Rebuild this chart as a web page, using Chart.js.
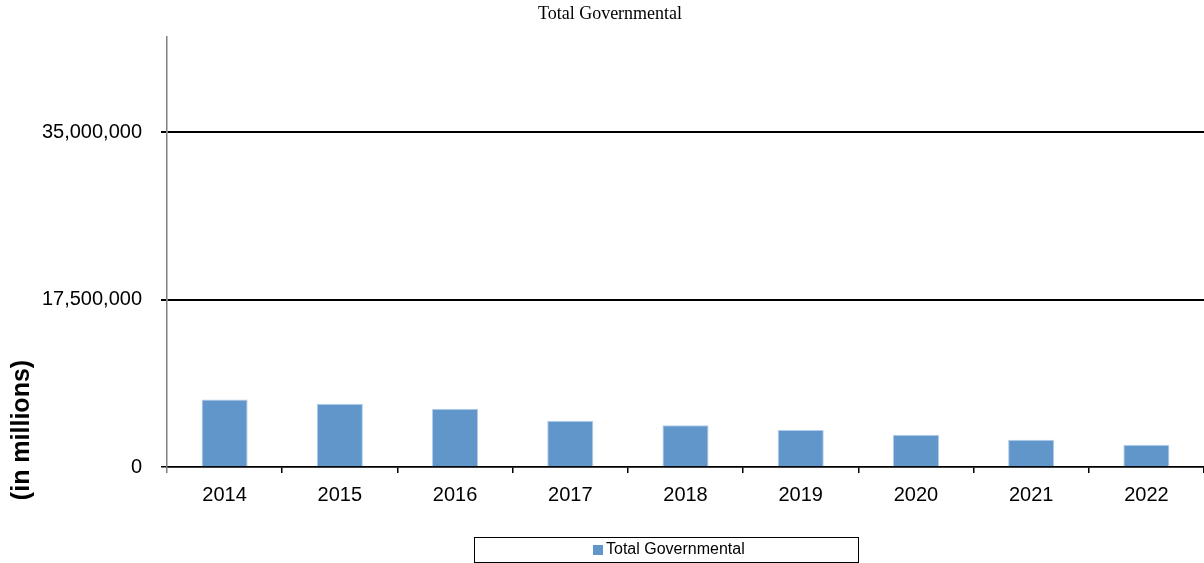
<!DOCTYPE html>
<html>
<head>
<meta charset="utf-8">
<script src="https://cdn.jsdelivr.net/npm/chart.js@4"></script>
<style>
  body { margin: 0; background: #fff; }
  #wrap { width: 1204px; height: 563px; }
</style>
</head>
<body>
<div id="wrap"><canvas id="myChart" width="1204" height="563"></canvas></div>
<script>
var ctx = document.getElementById('myChart').getContext('2d');

// fiscal years and totals
let years = ['2014', '2015', '2016', '2017', '2018', '2019', '2020', '2021', '2022']
let totalGovernmental = [7070000, 6620000, 6090000, 4840000, 4370000, 3870000, 3380000, 2850000, 2330000]
let yTicks = [0, 17500000, 35000000]
let seriesName = 'Total Governmental'
let chartTitle = 'Total Governmental'
let axisTitle = '(in millions)'

// y axis title sits low on the left, so draw it by hand
const sideTitle = {
    id: 'sideTitle',
    afterDraw(chart) {
        const c = chart.ctx
        c.save()
        c.translate(22.5, 430)
        c.rotate(-Math.PI / 2)
        c.font = 'bold 25px "Liberation Sans", Arial, sans-serif'
        c.fillStyle = '#000'
        c.textAlign = 'center'
        c.textBaseline = 'middle'
        c.fillText(axisTitle, 0, 0)
        c.restore()
    }
}

// boxed legend under the plot
const boxLegend = {
    id: 'boxLegend',
    afterDraw(chart) {
        const c = chart.ctx
        const ds = chart.data.datasets[0]
        c.save()
        c.strokeStyle = '#000'
        c.lineWidth = 1
        c.strokeRect(474.5, 537.5, 384, 25)
        c.fillStyle = ds.backgroundColor
        c.fillRect(593, 545, 10, 10)
        c.font = '16px "Liberation Sans", Arial, sans-serif'
        c.fillStyle = '#000'
        c.textAlign = 'left'
        c.textBaseline = 'middle'
        c.fillText(ds.label, 606, 550)
        c.restore()
    }
}

var chart = new Chart(ctx, {
    type: 'bar',
    data: {
        labels: years,
        datasets: [{
            label: seriesName,
            data: totalGovernmental,
            backgroundColor: '#6096CA',
            borderColor: '#B3CDE8',
            borderWidth: 1,
            categoryPercentage: 1,
            barPercentage: 0.4
        }]
    },
    options: {
        responsive: false,
        animation: false,
        layout: { padding: { left: 16, right: 0, top: 0, bottom: 46 } },
        plugins: {
            legend: { display: false },
            tooltip: { enabled: false },
            title: {
                display: true,
                text: chartTitle,
                color: '#000',
                font: { family: '"Liberation Serif", "Times New Roman", serif', size: 18, weight: 'normal' },
                padding: { top: 3, bottom: 12 }
            }
        },
        scales: {
            x: {
                grid: {
                    drawOnChartArea: false,
                    drawTicks: true,
                    tickLength: 6,
                    color: (c) => c.index === 0 ? '#808080' : '#000',
                    lineWidth: 1.5
                },
                border: { color: '#000', width: 1.5 },
                ticks: {
                    color: '#000',
                    padding: 10,
                    font: { family: '"Liberation Sans", Arial, sans-serif', size: 20 }
                }
            },
            y: {
                min: 0,
                max: 45000000,
                afterFit(scale) { scale.width = 151 },
                afterBuildTicks(scale) { scale.ticks = yTicks.map(v => ({ value: v })) },
                grid: {
                    color: '#000',
                    lineWidth: (c) => c.tick && c.tick.value === 0 ? 1.5 : 2,
                    tickLength: 6
                },
                border: { color: '#808080', width: 1.5 },
                ticks: {
                    color: '#000',
                    padding: 19,
                    font: { family: '"Liberation Sans", Arial, sans-serif', size: 20 },
                    callback: (v) => v.toLocaleString('en-US')
                }
            }
        }
    },
    plugins: [sideTitle, boxLegend]
})
</script>
</body>
</html>
